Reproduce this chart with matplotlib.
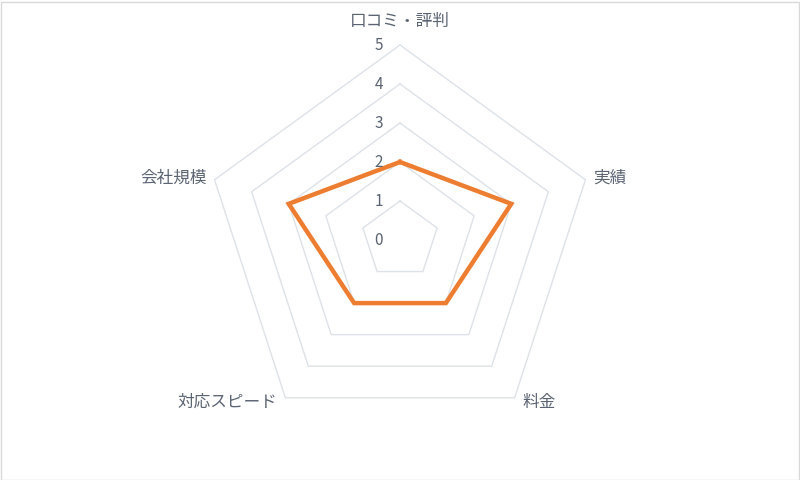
import numpy as np
import matplotlib
matplotlib.use("Agg")
import matplotlib.pyplot as plt
from matplotlib.patches import Rectangle

plt.rcParams['font.family'] = ['Noto Sans CJK JP', 'DejaVu Sans']

categories = ['口コミ・評判', '実績', '料金', '対応スピード', '会社規模']
values = [2, 3, 2, 2, 3]
ticks = [0, 1, 2, 3, 4, 5]
rmax = 5

text_color = '#5b6473'
grid_color = '#dde2e8'
line_color = '#ED7D31'

n = len(categories)
angles = np.array([2 * np.pi * i / n for i in range(n)])  # clockwise from top


def to_xy(r, a):
    return np.asarray(r) * np.sin(a), np.asarray(r) * np.cos(a)


fig = plt.figure(figsize=(8, 4.8), dpi=100)
ax = fig.add_axes([0, 0, 1, 1])
unit = 39.0
ax.set_xlim(-400 / unit, 400 / unit)
ax.set_ylim(-240 / unit, 240 / unit)
ax.axis('off')

# pentagonal grid rings
closed = np.append(angles, angles[0])
for t in ticks[1:]:
    x, y = to_xy(np.full(len(closed), t), closed)
    ax.plot(x, y, color=grid_color, lw=1.0, zorder=1)

# tick labels
for t in ticks:
    ax.text(-0.44, t - 0.02, str(t), ha='right', va='center',
            fontsize=11, color=text_color, zorder=3)

# data
vals = np.append(values, values[0])
x, y = to_xy(vals, closed)
ax.plot(x, y, color=line_color, lw=3.2, solid_joinstyle='miter', zorder=2)

# category labels
pad = 0.2
for cat, a in zip(categories, angles):
    vx, vy = to_xy(rmax, a)
    s = np.sin(a)
    if abs(s) < 1e-6:
        ax.text(vx, vy + 0.6, cat, ha='center', va='center',
                fontsize=12, color=text_color)
    elif s > 0:
        dy = -0.12 if vy < 0 else 0.05
        ax.text(vx + pad, vy + dy, cat, ha='left', va='center',
                fontsize=12, color=text_color)
    else:
        dy = -0.12 if vy < 0 else 0.05
        ax.text(vx - pad, vy + dy, cat, ha='right', va='center',
                fontsize=12, color=text_color)

fig.patches.append(Rectangle((0.5 / 800, 0.5 / 480), 1 - 2 / 800, 1 - 2 / 480,
                             transform=fig.transFigure, fill=False,
                             edgecolor='#d9d9d9', lw=1.0))

fig.savefig('out.png', dpi=100, facecolor='white')
